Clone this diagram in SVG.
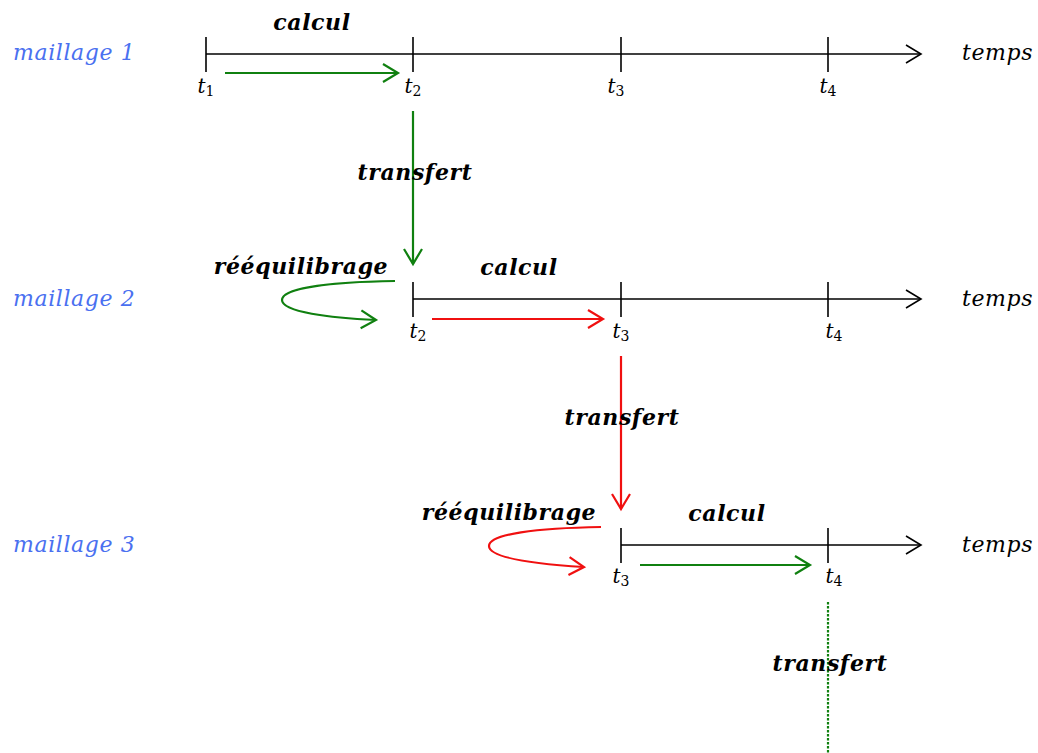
<svg xmlns="http://www.w3.org/2000/svg" width="1038" height="753" viewBox="0 0 1038 753">
<style>
.ax{stroke:#000;stroke-width:1.6;fill:none}
.g{stroke:#108010;stroke-width:2.2;fill:none}
.r{stroke:#f01010;stroke-width:2.2;fill:none}
.lbl{font-family:"DejaVu Serif",serif;font-style:italic;font-weight:bold;font-size:22px;letter-spacing:0.6px;fill:#000;text-anchor:middle}
.mesh{font-family:"DejaVu Serif",serif;font-style:italic;font-size:22px;letter-spacing:0.6px;fill:#4a70f0}
.tm{font-family:"DejaVu Serif",serif;font-style:italic;font-size:22px;letter-spacing:0.6px;fill:#000}
.t{font-family:"DejaVu Serif",serif;font-style:italic;font-size:20px;fill:#000;text-anchor:middle}
.sub{font-style:normal;font-size:14px}
</style>
<defs>
<marker id="ak" markerUnits="userSpaceOnUse" markerWidth="20" markerHeight="24" refX="16" refY="10" orient="auto" viewBox="0 0 20 20"><path d="M1,1 L16,10 L1,19" stroke="#000" stroke-width="1.6" fill="none"/></marker>
<marker id="ag" markerUnits="userSpaceOnUse" markerWidth="20" markerHeight="24" refX="16" refY="10" orient="auto" viewBox="0 0 20 20"><path d="M1,1 L16,10 L1,19" stroke="#108010" stroke-width="2.2" fill="none"/></marker>
<marker id="ar" markerUnits="userSpaceOnUse" markerWidth="20" markerHeight="24" refX="16" refY="10" orient="auto" viewBox="0 0 20 20"><path d="M1,1 L16,10 L1,19" stroke="#f01010" stroke-width="2.2" fill="none"/></marker>
</defs>
<g id="mesh1">
<text class="mesh" x="13" y="60">maillage 1</text>
<line class="ax" x1="206" y1="54" x2="921" y2="54" marker-end="url(#ak)"/>
<line class="ax" x1="206" y1="37" x2="206" y2="72"/>
<line class="ax" x1="413" y1="37" x2="413" y2="72"/>
<line class="ax" x1="621" y1="37" x2="621" y2="72"/>
<line class="ax" x1="828" y1="37" x2="828" y2="72"/>
<text class="t" x="206" y="93">t<tspan class="sub" dy="3">1</tspan></text>
<text class="t" x="413" y="93">t<tspan class="sub" dy="3">2</tspan></text>
<text class="t" x="616" y="93">t<tspan class="sub" dy="3">3</tspan></text>
<text class="t" x="828" y="93">t<tspan class="sub" dy="3">4</tspan></text>
<text class="tm" x="962" y="60">temps</text>
<text class="lbl" x="312" y="30">calcul</text>
</g>
<g id="mesh2">
<text class="mesh" x="13" y="306">maillage 2</text>
<line class="ax" x1="413" y1="299" x2="921" y2="299" marker-end="url(#ak)"/>
<line class="ax" x1="413" y1="282" x2="413" y2="317"/>
<line class="ax" x1="621" y1="282" x2="621" y2="317"/>
<line class="ax" x1="828" y1="282" x2="828" y2="317"/>
<text class="t" x="418" y="338">t<tspan class="sub" dy="3">2</tspan></text>
<text class="t" x="621" y="338">t<tspan class="sub" dy="3">3</tspan></text>
<text class="t" x="834" y="338">t<tspan class="sub" dy="3">4</tspan></text>
<text class="tm" x="962" y="306">temps</text>
<text class="lbl" x="519" y="275">calcul</text>
</g>
<g id="mesh3">
<text class="mesh" x="13" y="552">maillage 3</text>
<line class="ax" x1="621" y1="545" x2="921" y2="545" marker-end="url(#ak)"/>
<line class="ax" x1="621" y1="528" x2="621" y2="563"/>
<line class="ax" x1="828" y1="528" x2="828" y2="563"/>
<text class="t" x="621" y="583">t<tspan class="sub" dy="3">3</tspan></text>
<text class="t" x="834" y="583">t<tspan class="sub" dy="3">4</tspan></text>
<text class="tm" x="962" y="552">temps</text>
<text class="lbl" x="727" y="521">calcul</text>
</g>
<g id="connectors">
<line class="g" x1="225" y1="73" x2="398" y2="73" marker-end="url(#ag)"/>
<line class="g" x1="413" y1="111" x2="413" y2="264" marker-end="url(#ag)"/>
<text class="lbl" x="415" y="180">transfert</text>
<path class="g" d="M395,281 C330,282 282,288 282,300 C282,312 330,318 376,320" marker-end="url(#ag)"/>
<text class="lbl" x="301" y="274">rééquilibrage</text>
<line class="r" x1="432" y1="319" x2="603" y2="319" marker-end="url(#ar)"/>
<line class="r" x1="621" y1="356" x2="621" y2="509" marker-end="url(#ar)"/>
<text class="lbl" x="622" y="425">transfert</text>
<path class="r" d="M601,527 C537,528 489,534 489,546 C489,558 537,564 584,567" marker-end="url(#ar)"/>
<text class="lbl" x="509" y="520">rééquilibrage</text>
<line class="g" x1="640" y1="565" x2="810" y2="565" marker-end="url(#ag)"/>
<line x1="828" y1="602" x2="828" y2="753" stroke="#108010" stroke-width="2.2" stroke-dasharray="2.5,1.5"/>
<text class="lbl" x="830" y="671">transfert</text>
</g>
</svg>
